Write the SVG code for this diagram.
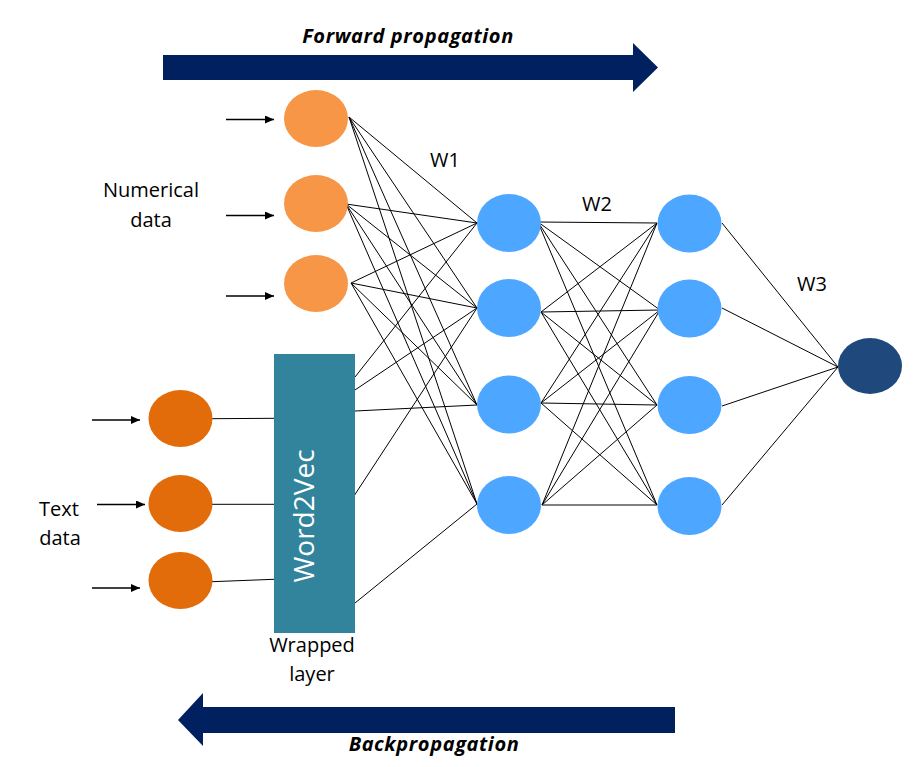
<svg xmlns="http://www.w3.org/2000/svg" width="916" height="767" viewBox="0 0 916 767">
<defs>
<style>
.lbl{font-family:"Open Sans","Liberation Sans",sans-serif;font-size:20px;fill:#000;text-anchor:middle}
.big{font-family:"Open Sans","Liberation Sans",sans-serif;font-size:20px;font-weight:bold;font-style:italic;letter-spacing:0.6px;fill:#000;text-anchor:middle}
.w2v{font-family:"Open Sans","Liberation Sans",sans-serif;font-size:28px;fill:#fff;text-anchor:middle}
.c line{stroke:#000;stroke-width:1}
.in line{stroke:#000;stroke-width:1.6}
.num{fill:#F79646}
.txt{fill:#E36C0A}
.hid{fill:#4DA6FF}
.out{fill:#1F497D}
.dir{fill:#002060}
</style>
<marker id="ah" markerUnits="userSpaceOnUse" markerWidth="9" markerHeight="8" refX="9" refY="4" orient="auto">
<path d="M0,0 L9,4 L0,8 z" fill="#000"/>
</marker>
</defs>
<rect width="916" height="767" fill="#fff"/>

<g id="forward-arrow">
<polygon class="dir" points="163,55 633,55 633,43 658,67.5 633,92 633,80 163,80"/>
<text class="big" x="408" y="43">Forward propagation</text>
</g>
<g id="back-arrow">
<polygon class="dir" points="675,707 203,707 203,693 178,720 203,746 203,733 675,733"/>
<text class="big" x="434" y="751">Backpropagation</text>
</g>

<g id="connectors" class="c">
<line x1="349" y1="117" x2="477" y2="223"/>
<line x1="349" y1="117" x2="477" y2="308"/>
<line x1="349" y1="117" x2="477" y2="405"/>
<line x1="349" y1="117" x2="477" y2="504"/>
<line x1="346" y1="204" x2="477" y2="223"/>
<line x1="346" y1="204" x2="477" y2="308"/>
<line x1="346" y1="204" x2="477" y2="405"/>
<line x1="346" y1="204" x2="477" y2="504"/>
<line x1="351" y1="283" x2="477" y2="223"/>
<line x1="351" y1="283" x2="477" y2="308"/>
<line x1="351" y1="283" x2="477" y2="405"/>
<line x1="351" y1="283" x2="477" y2="504"/>
<line x1="355" y1="377" x2="477" y2="223"/>
<line x1="352" y1="392" x2="477" y2="308"/>
<line x1="355" y1="411" x2="477" y2="405"/>
<line x1="352" y1="499" x2="477" y2="308"/>
<line x1="355" y1="603" x2="477" y2="504"/>
<line x1="212" y1="418.7" x2="274" y2="418.3"/>
<line x1="212" y1="504.3" x2="274" y2="504.3"/>
<line x1="212" y1="581.7" x2="274" y2="579.3"/>
<line x1="538" y1="222" x2="657" y2="223"/>
<line x1="538" y1="222" x2="660" y2="310"/>
<line x1="538" y1="222" x2="657" y2="405"/>
<line x1="538" y1="222" x2="657" y2="505"/>
<line x1="541" y1="312" x2="657" y2="223"/>
<line x1="541" y1="312" x2="660" y2="310"/>
<line x1="541" y1="312" x2="657" y2="405"/>
<line x1="541" y1="312" x2="657" y2="505"/>
<line x1="541" y1="403" x2="657" y2="223"/>
<line x1="541" y1="403" x2="660" y2="310"/>
<line x1="541" y1="403" x2="657" y2="405"/>
<line x1="541" y1="403" x2="657" y2="505"/>
<line x1="542" y1="505" x2="657" y2="223"/>
<line x1="542" y1="505" x2="660" y2="310"/>
<line x1="542" y1="505" x2="657" y2="405"/>
<line x1="542" y1="505" x2="657" y2="505"/>
<line x1="722" y1="223" x2="838" y2="367"/>
<line x1="722" y1="308" x2="838" y2="367"/>
<line x1="722" y1="406" x2="838" y2="367"/>
<line x1="722" y1="505" x2="838" y2="367"/>
</g>

<g id="inputs" class="in">
<line x1="226" y1="119.5" x2="274" y2="119.5" marker-end="url(#ah)"/>
<line x1="226" y1="215.5" x2="274" y2="215.5" marker-end="url(#ah)"/>
<line x1="226" y1="296" x2="274" y2="296" marker-end="url(#ah)"/>
<line x1="92" y1="420" x2="140" y2="420" marker-end="url(#ah)"/>
<line x1="97" y1="504.5" x2="145" y2="504.5" marker-end="url(#ah)"/>
<line x1="92" y1="588" x2="140" y2="588" marker-end="url(#ah)"/>
</g>

<g id="num1"><ellipse class="num" cx="316" cy="118.5" rx="32" ry="28.5"/></g>
<g id="num2"><ellipse class="num" cx="316" cy="203.5" rx="32" ry="28.5"/></g>
<g id="num3"><ellipse class="num" cx="316" cy="283.5" rx="32" ry="28.5"/></g>
<g id="txt1"><ellipse class="txt" cx="180.5" cy="418.5" rx="32" ry="28.5"/></g>
<g id="txt2"><ellipse class="txt" cx="180.5" cy="503.5" rx="32" ry="28.5"/></g>
<g id="txt3"><ellipse class="txt" cx="180.5" cy="580.5" rx="32" ry="28.5"/></g>

<g id="word2vec">
<rect x="274" y="354" width="81" height="279" fill="#31849B"/>
<text class="w2v" transform="translate(314,516) rotate(-90)">Word2Vec</text>
</g>

<g id="h1a"><ellipse class="hid" cx="509" cy="223" rx="32" ry="29"/></g>
<g id="h1b"><ellipse class="hid" cx="509" cy="308" rx="32" ry="29"/></g>
<g id="h1c"><ellipse class="hid" cx="509" cy="404.5" rx="32" ry="29"/></g>
<g id="h1d"><ellipse class="hid" cx="509" cy="505" rx="32" ry="29"/></g>
<g id="h2a"><ellipse class="hid" cx="689.5" cy="223.5" rx="32" ry="29"/></g>
<g id="h2b"><ellipse class="hid" cx="689.5" cy="308.5" rx="32" ry="29"/></g>
<g id="h2c"><ellipse class="hid" cx="689.5" cy="405" rx="32" ry="29"/></g>
<g id="h2d"><ellipse class="hid" cx="689.5" cy="506" rx="32" ry="29"/></g>
<g id="output"><ellipse class="out" cx="870" cy="366" rx="32" ry="28"/></g>

<g id="labels">
<text class="lbl" x="151" y="197">Numerical</text>
<text class="lbl" x="151" y="227">data</text>
<text class="lbl" x="59" y="516">Text</text>
<text class="lbl" x="60" y="545">data</text>
<text class="lbl" x="312" y="652">Wrapped</text>
<text class="lbl" x="312" y="681">layer</text>
<text class="lbl" x="445" y="167">W1</text>
<text class="lbl" x="597" y="211">W2</text>
<text class="lbl" x="812" y="291">W3</text>
</g>
</svg>
